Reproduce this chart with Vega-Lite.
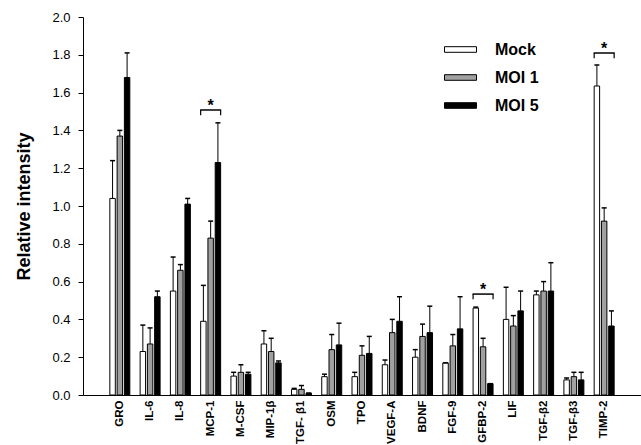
{
  "$schema": "https://vega.github.io/schema/vega-lite/v6.json",
  "width": 558,
  "height": 378,
  "autosize": "none",
  "padding": {"left": 83, "top": 17, "right": 0, "bottom": 50},
  "background": "white",
  "config": {
    "view": {"stroke": null},
    "font": "Liberation Sans",
    "axis": {"grid": false, "domainColor": "black", "tickColor": "black", "labelColor": "black", "titleColor": "black", "domainWidth": 1},
    "axisY": {"values": [0, 0.2, 0.4, 0.6, 0.8, 1.0, 1.2, 1.4, 1.6, 1.8, 2.0], "labelOverlap": false, "format": ".1f", "labelFontSize": 13, "tickSize": 5, "labelPadding": 8, "titleFontSize": 18, "titleFontWeight": "bold", "titlePadding": 18}
  },
  "datasets": {
    "bars": [
      {"cytokine": "GRO", "group": "Mock", "value": 1.04, "upper": 1.24},
      {"cytokine": "GRO", "group": "MOI 1", "value": 1.37, "upper": 1.40},
      {"cytokine": "GRO", "group": "MOI 5", "value": 1.68, "upper": 1.81},
      {"cytokine": "IL-6", "group": "Mock", "value": 0.23, "upper": 0.37},
      {"cytokine": "IL-6", "group": "MOI 1", "value": 0.27, "upper": 0.355},
      {"cytokine": "IL-6", "group": "MOI 5", "value": 0.52, "upper": 0.55},
      {"cytokine": "IL-8", "group": "Mock", "value": 0.55, "upper": 0.73},
      {"cytokine": "IL-8", "group": "MOI 1", "value": 0.66, "upper": 0.69},
      {"cytokine": "IL-8", "group": "MOI 5", "value": 1.01, "upper": 1.04},
      {"cytokine": "MCP-1", "group": "Mock", "value": 0.39, "upper": 0.58},
      {"cytokine": "MCP-1", "group": "MOI 1", "value": 0.83, "upper": 0.92},
      {"cytokine": "MCP-1", "group": "MOI 5", "value": 1.23, "upper": 1.44},
      {"cytokine": "M-CSF", "group": "Mock", "value": 0.10, "upper": 0.12},
      {"cytokine": "M-CSF", "group": "MOI 1", "value": 0.12, "upper": 0.16},
      {"cytokine": "M-CSF", "group": "MOI 5", "value": 0.11, "upper": 0.12},
      {"cytokine": "MIP-1β", "group": "Mock", "value": 0.27, "upper": 0.34},
      {"cytokine": "MIP-1β", "group": "MOI 1", "value": 0.23, "upper": 0.30},
      {"cytokine": "MIP-1β", "group": "MOI 5", "value": 0.17, "upper": 0.18},
      {"cytokine": "TGF- β1", "group": "Mock", "value": 0.03, "upper": 0.035},
      {"cytokine": "TGF- β1", "group": "MOI 1", "value": 0.03, "upper": 0.05},
      {"cytokine": "TGF- β1", "group": "MOI 5", "value": 0.01, "upper": 0.01},
      {"cytokine": "OSM", "group": "Mock", "value": 0.097, "upper": 0.11},
      {"cytokine": "OSM", "group": "MOI 1", "value": 0.24, "upper": 0.32},
      {"cytokine": "OSM", "group": "MOI 5", "value": 0.265, "upper": 0.38},
      {"cytokine": "TPO", "group": "Mock", "value": 0.097, "upper": 0.12},
      {"cytokine": "TPO", "group": "MOI 1", "value": 0.21, "upper": 0.26},
      {"cytokine": "TPO", "group": "MOI 5", "value": 0.22, "upper": 0.31},
      {"cytokine": "VEGF-A", "group": "Mock", "value": 0.16, "upper": 0.185},
      {"cytokine": "VEGF-A", "group": "MOI 1", "value": 0.33, "upper": 0.40},
      {"cytokine": "VEGF-A", "group": "MOI 5", "value": 0.39, "upper": 0.52},
      {"cytokine": "BDNF", "group": "Mock", "value": 0.20, "upper": 0.24},
      {"cytokine": "BDNF", "group": "MOI 1", "value": 0.31, "upper": 0.375},
      {"cytokine": "BDNF", "group": "MOI 5", "value": 0.33, "upper": 0.47},
      {"cytokine": "FGF-9", "group": "Mock", "value": 0.17, "upper": 0.17},
      {"cytokine": "FGF-9", "group": "MOI 1", "value": 0.26, "upper": 0.32},
      {"cytokine": "FGF-9", "group": "MOI 5", "value": 0.35, "upper": 0.52},
      {"cytokine": "GFBP-2", "group": "Mock", "value": 0.46, "upper": 0.465},
      {"cytokine": "GFBP-2", "group": "MOI 1", "value": 0.255, "upper": 0.30},
      {"cytokine": "GFBP-2", "group": "MOI 5", "value": 0.06, "upper": 0.06},
      {"cytokine": "LIF", "group": "Mock", "value": 0.40, "upper": 0.57},
      {"cytokine": "LIF", "group": "MOI 1", "value": 0.365, "upper": 0.42},
      {"cytokine": "LIF", "group": "MOI 5", "value": 0.445, "upper": 0.55},
      {"cytokine": "TGF-β2", "group": "Mock", "value": 0.53, "upper": 0.55},
      {"cytokine": "TGF-β2", "group": "MOI 1", "value": 0.55, "upper": 0.60},
      {"cytokine": "TGF-β2", "group": "MOI 5", "value": 0.55, "upper": 0.70},
      {"cytokine": "TGF-β3", "group": "Mock", "value": 0.08, "upper": 0.09},
      {"cytokine": "TGF-β3", "group": "MOI 1", "value": 0.097, "upper": 0.12},
      {"cytokine": "TGF-β3", "group": "MOI 5", "value": 0.08, "upper": 0.12},
      {"cytokine": "TIMP-2", "group": "Mock", "value": 1.635, "upper": 1.746},
      {"cytokine": "TIMP-2", "group": "MOI 1", "value": 0.92, "upper": 0.99},
      {"cytokine": "TIMP-2", "group": "MOI 5", "value": 0.365, "upper": 0.445}
    ],
    "brackets": [
      {"cytokine": "MCP-1", "top": 1.508, "leg": 1.48, "label": "*"},
      {"cytokine": "GFBP-2", "top": 0.534, "leg": 0.506, "label": "*"},
      {"cytokine": "TIMP-2", "top": 1.81, "leg": 1.782, "label": "*"}
    ]
  },
  "encoding": {
    "x": {
      "field": "cytokine",
      "type": "nominal",
      "sort": ["GRO", "IL-6", "IL-8", "MCP-1", "M-CSF", "MIP-1β", "TGF- β1", "OSM", "TPO", "VEGF-A", "BDNF", "FGF-9", "GFBP-2", "LIF", "TGF-β2", "TGF-β3", "TIMP-2"],
      "scale": {"paddingInner": 0.34, "paddingOuter": 0.887},
      "axis": {"title": null, "labelAngle": -90, "labelAlign": "right", "labelBaseline": "middle", "labelFontSize": 11.5, "labelFontWeight": "bold", "ticks": false, "labelPadding": 5, "labelOverlap": false}
    }
  },
  "layer": [
    {
      "data": {"name": "bars"},
      "mark": {"type": "bar", "stroke": "black", "strokeWidth": 1},
      "encoding": {
        "xOffset": {"field": "group", "type": "nominal", "sort": ["Mock", "MOI 1", "MOI 5"], "scale": {"paddingInner": 0.25}},
        "y": {
          "field": "value", "type": "quantitative",
          "scale": {"domain": [0, 2], "nice": false},
          "axis": {"title": "Relative intensity", "values": [0, 0.2, 0.4, 0.6, 0.8, 1.0, 1.2, 1.4, 1.6, 1.8, 2.0], "labelOverlap": false}
        },
        "fill": {
          "field": "group", "type": "nominal",
          "scale": {"domain": ["Mock", "MOI 1", "MOI 5"], "range": ["white", "#a0a0a0", "black"]},
          "legend": {"title": null, "orient": "none", "legendX": 367, "legendY": 22, "symbolType": "M-1.6,-0.28H1.6V0.28H-1.6Z", "symbolSize": 400, "symbolStrokeColor": "black", "symbolStrokeWidth": 1, "symbolOpacity": 1, "labelFontSize": 16, "labelFontWeight": "bold", "labelColor": "black", "labelOffset": 24, "rowPadding": 9, "padding": 0}
        }
      }
    },
    {
      "data": {"name": "bars"},
      "mark": {"type": "rule", "color": "black", "strokeWidth": 1},
      "encoding": {
        "xOffset": {"field": "group", "type": "nominal", "sort": ["Mock", "MOI 1", "MOI 5"]},
        "y": {"field": "value", "type": "quantitative", "axis": {"title": "Relative intensity", "values": [0, 0.2, 0.4, 0.6, 0.8, 1.0, 1.2, 1.4, 1.6, 1.8, 2.0], "labelOverlap": false}},
        "y2": {"field": "upper"}
      }
    },
    {
      "data": {"name": "bars"},
      "mark": {"type": "tick", "color": "black", "thickness": 1.5, "size": 5, "opacity": 1},
      "encoding": {
        "xOffset": {"field": "group", "type": "nominal", "sort": ["Mock", "MOI 1", "MOI 5"]},
        "y": {"field": "upper", "type": "quantitative", "axis": {"title": "Relative intensity", "values": [0, 0.2, 0.4, 0.6, 0.8, 1.0, 1.2, 1.4, 1.6, 1.8, 2.0], "labelOverlap": false}}
      }
    },
    {
      "data": {"name": "brackets"},
      "mark": {"type": "tick", "color": "black", "thickness": 1.5, "size": 21, "opacity": 1},
      "encoding": {"y": {"field": "top", "type": "quantitative", "axis": {"title": "Relative intensity", "values": [0, 0.2, 0.4, 0.6, 0.8, 1.0, 1.2, 1.4, 1.6, 1.8, 2.0], "labelOverlap": false}}}
    },
    {
      "data": {"name": "brackets"},
      "mark": {"type": "rule", "color": "black", "strokeWidth": 1.2},
      "encoding": {
        "x": {"field": "cytokine", "type": "nominal", "bandPosition": 0},
        "y": {"field": "top", "type": "quantitative", "axis": {"title": "Relative intensity", "values": [0, 0.2, 0.4, 0.6, 0.8, 1.0, 1.2, 1.4, 1.6, 1.8, 2.0], "labelOverlap": false}},
        "y2": {"field": "leg"}
      }
    },
    {
      "data": {"name": "brackets"},
      "mark": {"type": "rule", "color": "black", "strokeWidth": 1.2},
      "encoding": {
        "x": {"field": "cytokine", "type": "nominal", "bandPosition": 1},
        "y": {"field": "top", "type": "quantitative", "axis": {"title": "Relative intensity", "values": [0, 0.2, 0.4, 0.6, 0.8, 1.0, 1.2, 1.4, 1.6, 1.8, 2.0], "labelOverlap": false}},
        "y2": {"field": "leg"}
      }
    },
    {
      "data": {"name": "brackets"},
      "mark": {"type": "text", "color": "black", "fontSize": 16, "fontWeight": "bold", "baseline": "alphabetic", "dy": 1},
      "encoding": {
        "y": {"field": "top", "type": "quantitative", "axis": {"title": "Relative intensity", "values": [0, 0.2, 0.4, 0.6, 0.8, 1.0, 1.2, 1.4, 1.6, 1.8, 2.0], "labelOverlap": false}},
        "text": {"field": "label"}
      }
    }
  ]
}
